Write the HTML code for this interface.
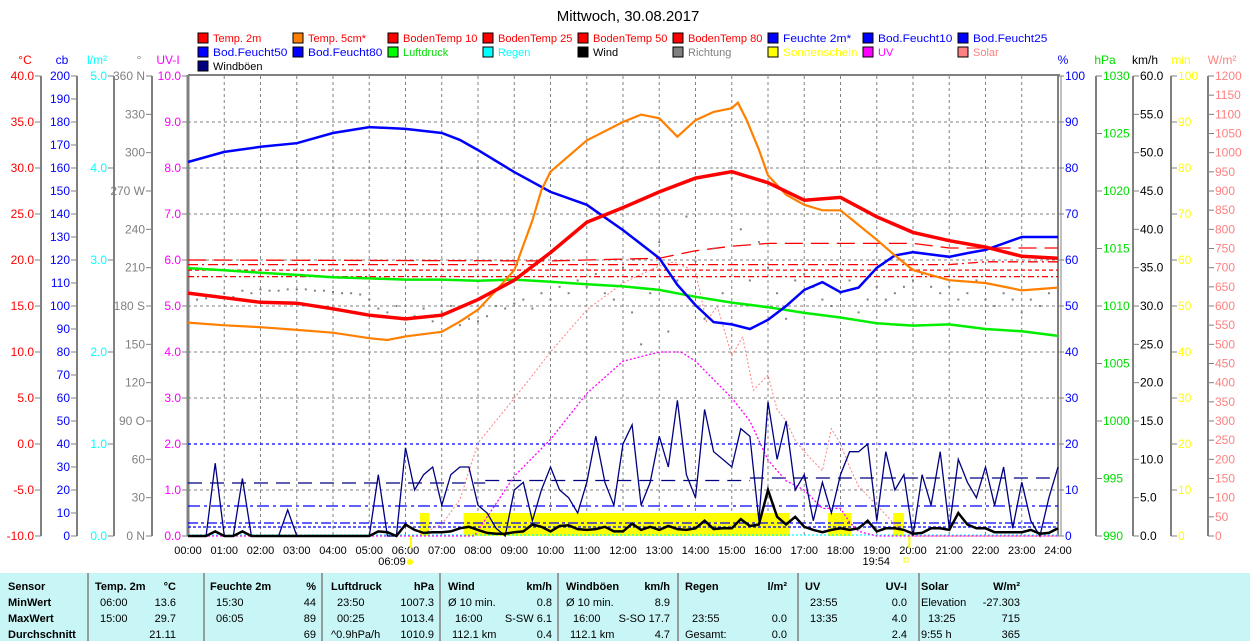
<!DOCTYPE html>
<html><head><meta charset="utf-8"><style>
html,body{margin:0;padding:0;background:#fff;}
svg{display:block;font-family:"Liberation Sans",sans-serif;}
</style></head><body>
<svg id="chart" width="1250" height="641" viewBox="0 0 1250 641" xmlns="http://www.w3.org/2000/svg">
<text x="628" y="21" font-size="15" text-anchor="middle" fill="#000">Mittwoch, 30.08.2017</text>
<g id="legend"></g>
<g id="grid"></g>
<g id="axes"></g>
<g id="series"></g>
<g id="table"></g>
</svg>
<script>
// ---- data ----
const temp2mT = [0,1,2,3,4,5,6,7,8,9,10,11,12,13,14,15,16,17,18,19,20,21,22,23,24];
const temp2mV = [16.4,15.9,15.4,15.3,14.7,14.0,13.6,14.0,15.7,17.8,20.8,24.1,25.7,27.4,28.9,29.6,28.4,26.5,26.8,24.7,23.0,22.1,21.4,20.4,20.2];
const temp5T = [0,1,2,3,4,5,5.5,6,7,7.5,8,8.5,9,9.5,9.75,10,11,12,12.5,13,13.5,14,14.5,15,15.17,15.4,15.75,16,16.5,17,17.5,18,18.5,19,19.5,20,21,22,23,24];
const temp5V = [13.2,12.9,12.7,12.4,12.1,11.5,11.3,11.7,12.2,13.3,14.6,16.7,18.9,24.3,27.6,29.6,33.0,35.0,35.8,35.4,33.4,35.2,36.1,36.5,37.1,35.3,32.0,29.2,27.1,26.0,25.4,25.4,23.8,22.2,20.5,18.9,17.8,17.5,16.7,17.0];
const humT = [0,1,2,3,4,5,6,7,7.5,8,9,10,11,12,13,13.5,14,14.5,15,15.5,16,16.5,17,17.5,18,18.5,19,19.5,20,21,21.5,22,23,24];
const humV = [81.3,83.5,84.6,85.4,87.6,88.9,88.5,87.6,86.1,83.9,79.1,74.8,72.0,66.5,60.4,54.6,50.2,46.5,46.0,45.0,47.0,50.0,53.5,55.2,53.0,54.0,58.3,61.0,61.7,60.7,61.5,62.2,65.0,65.0];
const pressT = [0,1,2,3,4,5,6,7,8,9,10,11,12,13,14,15,16,17,18,19,20,21,22,23,24];
const pressV = [1013.3,1013.1,1012.9,1012.7,1012.5,1012.4,1012.3,1012.3,1012.2,1012.3,1012.1,1011.9,1011.7,1011.4,1010.8,1010.3,1009.9,1009.4,1009.0,1008.5,1008.3,1008.4,1008.0,1007.8,1007.4];
const bt10T = [0,10,13,14,15,16,20,21,24];
const bt10V = [20.0,19.9,20.2,21.0,21.5,21.8,21.8,21.3,21.3];
const bt25V = [19.5,19.5,19.5,19.8,19.8];
const bt25T = [0,10,21,22,24];
const bt50V = 18.9, bt80V = 18.2;
const gustV = [0,0,0,9.5, 0,0,7.5,0, 0,0,0,3.4, 0,0,0,0, 0,0,0,0, 0,8,0,0,
 11.5,6,8,9, 4,8,9,9, 4,3,1,0, 6,7,2,6, 9,6,5,3, 7,13,7,4,
 12,14.5,4,7, 13,9,17.7,8, 5,16.5,11,10, 9,14,13,2, 17.5,10,15,6,
 8,2,7,3, 8,11,11,12, 2,11,6,8, 0,8,4,11, 1,10,7,5, 9,4,9,1, 7,2,0,5, 9];
const windV = [0,0,0,0.6, 0,0,0.6,0, 0,0,0,0, 0,0,0,0, 0,0,0,0, 0,0.6,0.5,0,
 1.5,0.8,0.4,0.5, 0.5,0.6,1.0,1.2, 0.8,0.4,0.3,0.3, 0.5,0.6,1.5,1.2, 0.6,1.3,1.4,0.9, 0.8,0.9,1.2,0.6,
 0.6,1.6,0.8,1.2, 0.8,1.3,0.9,0.8, 1.0,2.0,0.9,1.0, 1.0,2.2,1.3,1.5, 6.0,2.5,1.5,2.5,
 1.2,0.8,0.5,0.8, 1.0,0.8,1.0,2.0, 0.6,1.0,1.0,0.8, 0.3,0.4,1.0,1.0, 0.8,3.0,1.5,1.0, 1.0,0.5,0.5,0.5, 0.5,0.8,0.3,0.4, 1.0];
const dirV = [190,185,186,188, 190,187,192,190, 193,192,192,193, 193,193,192,192, 191,190,190,189, 185,178,175,180,
 170,172,178,168, 175,180,165,170, 168,172,180,178, 182,185,178,190, 185,195,190,200, 195,205,190,185,
 210,175,150,190, 230,160,200,250, 215,170,225,190, 280,240,200,230, 210,190,170,200,
 205,195,185,180, 190,200,175,185, 195,185,190,195, 200,205,195,190, 195,185,190,200, 185,180,190,185, 175,185,180,190, 185];
const sunStart = [6.4, 7.6, 17.65, 19.45];
const sunEnd = [6.65, 16.6, 18.3, 19.75];
const sunMin = [5, 5, 5, 5];
const uvT = [0,7.9,9,10,11,12,13,13.6,14,15,15.5,16,16.5,17,17.5,18,18.25,18.5,19,24];
const uvV = [0,0,1.3,2.1,3.1,3.8,4.0,4.0,3.8,3.0,2.5,1.65,1.2,1.0,0.6,0.6,0.3,0.1,0,0];
const solarT = [0,6.3,7,7.5,8,8.75,9.4,10,11,12,13,13.4,14,14.3,14.6,15,15.3,15.6,16,16.25,16.5,16.75,17,17.5,17.75,18,18.25,18.5,19,19.5,20,24];
const solarV = [0,0,30,95,243,330,407,480,590,660,705,715,690,560,600,470,520,380,420,330,300,250,220,170,280,240,180,130,80,30,0,0];
const hours = [0,1,2,3,4,5,6,7,8,9,10,11,12,13,14,15,16,17,18,19,20,21,22,23,24];

// ---- scales ----
const X0=188, X1=1058, YT=76, YB=536, H=YB-YT;
const xH = h => X0 + h*(X1-X0)/24;
const yUV = v => YB - v*H/10;
const yC = t => YB - (t+10)*H/50;
const yPct = p => YB - p*H/100;
const yHpa = p => YB - (p-990)*H/40;
const yKmh = v => YB - v*H/60;
const yW = w => YB - w*H/1200;
const yDeg = d => YB - d*H/360;
const yMin = m => YB - m*H/100;

const NS='http://www.w3.org/2000/svg';
function mk(tag, attrs, parent){const e=document.createElementNS(NS,tag);for(const k in attrs)e.setAttribute(k,attrs[k]);parent.appendChild(e);return e;}
function txt(parent,x,y,s,attrs){const e=mk('text',Object.assign({x:x,y:y},attrs||{}),parent);e.textContent=s;return e;}

const gGrid=document.getElementById('grid'), gAx=document.getElementById('axes'), gS=document.getElementById('series'), gL=document.getElementById('legend'), gT=document.getElementById('table');

// grid
for(let i=1;i<24;i++){const l=mk('line',{x1:xH(i),x2:xH(i),y1:YT,y2:YB,stroke:'#808080','stroke-dasharray':'3,3'},gGrid);

}
for(let i=1;i<10;i++){const l=mk('line',{x1:X0,x2:X1,y1:yUV(i),y2:yUV(i),stroke:'#808080','stroke-dasharray':'3,3'},gGrid);

}

// time labels
hours.forEach(h=>{const t=txt(gAx,xH(h),554,(h<10?'0':'')+h+':00',{'font-size':11,'text-anchor':'middle',fill:'#000'});

});
{const t=txt(gAx,392,565,'06:09',{'font-size':11,'text-anchor':'middle'});}
{const c=mk('circle',{cx:410,cy:562,r:3,fill:'#ffff00'},gAx);}
mk('line',{x1:xH(6.15),x2:xH(6.15),y1:YB,y2:548,stroke:'#ffff00','stroke-width':2},gAx);
{const t=txt(gAx,890,565,'19:54',{'font-size':11,'text-anchor':'end'});}
{const r=mk('rect',{x:904,y:558,width:4,height:4,fill:'none',stroke:'#ffff00'},gAx);}
mk('line',{x1:xH(19.9),x2:xH(19.9),y1:YB,y2:548,stroke:'#ffff00','stroke-width':2},gAx);

// axes
function leftAxis(name,lineX,unit,unitX,color,min,max,step,fmt,scale,lblColor){
  const g=mk('g',{},gAx);
  if(lineX!==X0) mk('line',{x1:lineX,x2:lineX,y1:YT,y2:YB,stroke:'#808080','stroke-width':2},g);
  txt(g,unitX,64,unit,{'font-size':12,'text-anchor':'middle',fill:color});
  for(let v=min;v<=max+1e-9;v+=step){const y=scale(v);
    mk('line',{x1:lineX-6,x2:lineX,y1:y,y2:y,stroke:'#808080'},g);
    txt(g,lineX-7,y+4,fmt(v),{'font-size':12,'text-anchor':'end',fill:lblColor||color});}
}
function rightAxis(name,lineX,unit,unitX,color,min,max,step,fmt,scale){
  const g=mk('g',{},gAx);
  if(lineX!==X1) mk('line',{x1:lineX,x2:lineX,y1:YT,y2:YB,stroke:'#808080','stroke-width':2},g);
  txt(g,unitX,64,unit,{'font-size':12,'text-anchor':'middle',fill:color});
  for(let v=min;v<=max+1e-9;v+=step){const y=scale(v);
    mk('line',{x1:lineX,x2:lineX+6,y1:y,y2:y,stroke:'#808080'},g);
    txt(g,lineX+7,y+4,fmt(v),{'font-size':12,'text-anchor':'start',fill:color});}
}
leftAxis('celsius-axis',41,'°C',25,'#ff0000',-10,40,5,v=>v.toFixed(1),yC);
leftAxis('cb-axis',77,'cb',62,'#0000ff',0,200,10,v=>String(v),v=>YB-v*H/200);
leftAxis('rain-axis',114,'l/m²',97,'#00ffff',0,5,1,v=>v.toFixed(1),v=>YB-v*H/5);
const dirName={0:' N',90:' O',180:' S',270:' W',360:' N'};
leftAxis('direction-axis',152,'°',139,'#808080',0,360,30,v=>v+(dirName[v]||''),yDeg);
leftAxis('uv-axis',X0,'UV-I',168,'#ff00ff',0,10,1,v=>v.toFixed(1),yUV);
rightAxis('humidity-axis',X1,'%',1063,'#0000ff',0,100,10,v=>String(v),yPct);
rightAxis('pressure-axis',1096,'hPa',1105,'#00dd00',990,1030,5,v=>String(v),yHpa);
rightAxis('wind-axis',1133,'km/h',1145,'#000000',0,60,5,v=>v.toFixed(1),yKmh);
rightAxis('sunshine-axis',1171,'min',1181,'#ffff00',0,100,10,v=>String(v),yMin);
rightAxis('solar-axis',1208,'W/m²',1222,'#ff8080',0,1200,50,v=>String(v),yW);

// series helpers
function poly(name,T,V,ys,attrs){const pts=T.map((t,i)=>xH(t).toFixed(1)+','+ys(V[i]).toFixed(1)).join(' ');
  const p=mk('polyline',Object.assign({points:pts,fill:'none'},attrs),gS);
  
  return p;}
const q=gustV.map((_,i)=>i*0.25);

// sunshine bars
sunStart.forEach((s,i)=>{const r=mk('rect',{x:xH(s),y:yMin(sunMin[i]),width:xH(sunEnd[i])-xH(s),height:YB-yMin(sunMin[i]),fill:'#ffff00'},gS);

});

// reference lines
function hline(name,y,color,dash,x1h,x2h){const l=mk('line',{x1:xH(x1h||0),x2:xH(x2h||24),y1:y,y2:y,stroke:color,'stroke-dasharray':dash,'stroke-width':1.3},gS);
}
hline('soil-moisture-line',yUV(2),'#0000ff','3,3');
hline('gust-average-line',483,'#000080','14,8',0,8.2);
hline('gust-average-line',480.5,'#000080','14,8',8.2,15.5);
hline('gust-average-line',478,'#000080','14,8',15.5,24);
hline('soil-moisture-line',506,'#0000ff','12,4,3,4');
hline('soil-moisture-line',523,'#0000ff','10,3,3,3');
hline('soil-moisture-line',527,'#0000ff','3,2');
hline('rain-line',535,'#00ffff','2,2');

poly('soil-temp-80-line',[0,24],[bt80V,bt80V],yC,{stroke:'#ff0000','stroke-width':1.3,'stroke-dasharray':'6,3,2,3'});
poly('soil-temp-50-line',[0,24],[bt50V,bt50V],yC,{stroke:'#ff0000','stroke-width':1.3,'stroke-dasharray':'4,3'});
poly('soil-temp-25-line',bt25T,bt25V,yC,{stroke:'#ff0000','stroke-width':1.3,'stroke-dasharray':'10,4,2,4'});
poly('soil-temp-10-line',bt10T,bt10V,yC,{stroke:'#ff0000','stroke-width':1.3,'stroke-dasharray':'18,8'});

// direction dots
dirV.forEach((d,i)=>{const r=mk('rect',{x:xH(q[i])-1,y:yDeg(d)-1,width:2,height:2,fill:'#808080'},gS);

});

poly('solar-line',solarT,solarV,yW,{stroke:'#ff8080','stroke-width':1,'stroke-dasharray':'2,2'});
poly('uv-line',uvT,uvV,yUV,{stroke:'#ff00ff','stroke-width':1.3,'stroke-dasharray':'2,2'});
poly('pressure-line',pressT,pressV,yHpa,{stroke:'#00ee00','stroke-width':2.5});
poly('humidity-line',humT,humV,yPct,{stroke:'#0000ff','stroke-width':2.5});
poly('temp-5cm-line',temp5T,temp5V,yC,{stroke:'#ff8000','stroke-width':2.2});
poly('temp-2m-line',temp2mT,temp2mV,yC,{stroke:'#ff0000','stroke-width':3.5});
poly('gust-line',q,gustV,yKmh,{stroke:'#000080','stroke-width':1.3});
poly('wind-line',q,windV,yKmh,{stroke:'#000000','stroke-width':2.5});

// plot frame
mk('line',{x1:X0,x2:X0,y1:YT-1,y2:YB,stroke:'#808080','stroke-width':3},gAx);
mk('line',{x1:X0,x2:X1+2,y1:YT-1,y2:YT-1,stroke:'#808080','stroke-width':2},gAx);
mk('line',{x1:X1,x2:X1,y1:YT,y2:YB,stroke:'#808080','stroke-width':2},gAx);
mk('line',{x1:X1+3,x2:X1+3,y1:YT,y2:YB,stroke:'#808080','stroke-width':1},gAx);

// legend
const legNames=['Temp. 2m','Temp. 5cm*','BodenTemp 10','BodenTemp 25','BodenTemp 50','BodenTemp 80','Feuchte 2m*','Bod.Feucht10','Bod.Feucht25',
'Bod.Feucht50','Bod.Feucht80','Luftdruck','Regen','Wind','Richtung','Sonnenschein','UV','Solar','Windböen'];
const legSw=['#ff0000','#ff8000','#ff0000','#ff0000','#ff0000','#ff0000','#0000ff','#0000ff','#0000ff','#0000ff','#0000ff','#00ff00','#00ffff','#000000','#808080','#ffff00','#ff00ff','#ff8080','#000080'];
const legTx=['#ff0000','#ff0000','#ff0000','#ff0000','#ff0000','#ff0000','#0000ff','#0000ff','#0000ff','#0000ff','#0000ff','#00dd00','#00ffff','#000000','#808080','#ffff00','#ff00ff','#ff8080','#000000'];
legNames.forEach((n,i)=>{const col=i%9,row=Math.floor(i/9);const x=198+col*95,y=38+row*14;
 const g=mk('g',{},gL);
 
 
 mk('rect',{x:x,y:y-5,width:10,height:10,fill:legSw[i],stroke:'#000'},g);
 const t=txt(g,x+15,y+4,n,{'font-size':11,fill:legTx[i]});
 if(n.length>=11) {t.setAttribute('textLength', Math.min(76, n.length*6.2)); t.setAttribute('lengthAdjust','spacingAndGlyphs');}
});

// table
mk('rect',{x:0,y:573,width:1250,height:68,fill:'#c8f5f5'},gT);
[88,204,322,440,558,678,798,919].forEach(x=>mk('line',{x1:x,x2:x,y1:573,y2:641,stroke:'#808080','stroke-width':1.5},gT));
const rowsY=[590,606,622,638];
function T(x,r,s,anchor,bold){const t=txt(gT,x,rowsY[r],s,{'font-size':11,'text-anchor':anchor||'start','font-weight':bold?'bold':'normal',fill:'#000'});

}
T(8,0,'Sensor','start',1);T(8,1,'MinWert','start',1);T(8,2,'MaxWert','start',1);T(8,3,'Durchschnitt','start',1);
T(95,0,'Temp. 2m','start',1);T(176,0,'°C','end',1);T(100,1,'06:00');T(176,1,'13.6','end');T(100,2,'15:00');T(176,2,'29.7','end');T(176,3,'21.11','end');
T(210,0,'Feuchte 2m','start',1);T(316,0,'%','end',1);T(216,1,'15:30');T(316,1,'44','end');T(216,2,'06:05');T(316,2,'89','end');T(316,3,'69','end');
T(331,0,'Luftdruck','start',1);T(434,0,'hPa','end',1);T(337,1,'23:50');T(434,1,'1007.3','end');T(337,2,'00:25');T(434,2,'1013.4','end');T(331,3,'^0.9hPa/h');T(434,3,'1010.9','end');
T(448,0,'Wind','start',1);T(552,0,'km/h','end',1);T(448,1,'Ø 10 min.');T(552,1,'0.8','end');T(455,2,'16:00');T(552,2,'S-SW 6.1','end');T(452,3,'112.1 km');T(552,3,'0.4','end');
T(566,0,'Windböen','start',1);T(670,0,'km/h','end',1);T(566,1,'Ø 10 min.');T(670,1,'8.9','end');T(573,2,'16:00');T(670,2,'S-SO 17.7','end');T(570,3,'112.1 km');T(670,3,'4.7','end');
T(685,0,'Regen','start',1);T(787,0,'l/m²','end',1);T(692,2,'23:55');T(787,2,'0.0','end');T(685,3,'Gesamt:');T(787,3,'0.0','end');
T(805,0,'UV','start',1);T(907,0,'UV-I','end',1);T(810,1,'23:55');T(907,1,'0.0','end');T(810,2,'13:35');T(907,2,'4.0','end');T(907,3,'2.4','end');
T(921,0,'Solar','start',1);T(1020,0,'W/m²','end',1);T(921,1,'Elevation');T(1020,1,'-27.303','end');T(928,2,'13:25');T(1020,2,'715','end');T(921,3,'9:55 h');T(1020,3,'365','end');
</script>
</body></html>
